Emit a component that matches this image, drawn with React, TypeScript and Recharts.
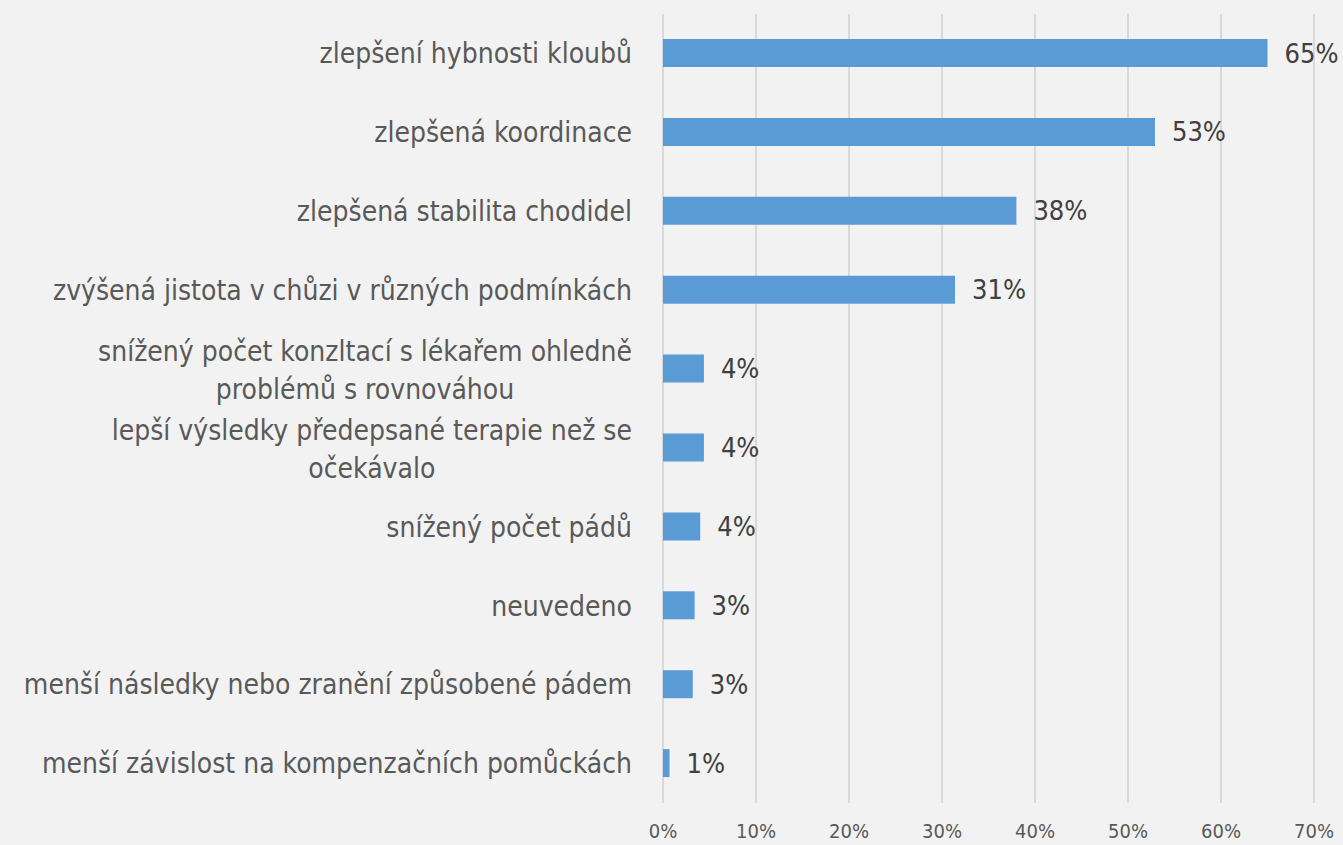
import { BarChart, Bar, XAxis, YAxis, CartesianGrid, LabelList } from "recharts";

const categories = [
  "zlepšení hybnosti kloubů",
  "zlepšená koordinace",
  "zlepšená stabilita chodidel",
  "zvýšená jistota v chůzi v různých podmínkách",
  "snížený počet konzltací s lékařem ohledně|problémů s rovnováhou",
  "lepší výsledky předepsané terapie než se|očekávalo",
  "snížený počet pádů",
  "neuvedeno",
  "menší následky nebo zranění způsobené pádem",
  "menší závislost na kompenzačních pomůckách",
];

const values = [65, 52.9, 38, 31.4, 4.4, 4.4, 4, 3.4, 3.2, 0.7];

const xTicks = [0, 10, 20, 30, 40, 50, 60, 70];

const FONT = "'DejaVu Sans Condensed', 'DejaVu Sans', sans-serif";
const LABEL_SIZE = 28;

const data = categories.map((name, i) => ({ name, value: values[i] }));

let ctx: CanvasRenderingContext2D | null = null;
const measure = (s: string) => {
  if (!ctx) {
    ctx = document.createElement("canvas").getContext("2d");
  }
  if (!ctx) return s.length * 13;
  ctx.font = `${LABEL_SIZE}px 'DejaVu Sans Condensed'`;
  return ctx.measureText(s).width;
};

const CategoryTick = (props: any) => {
  const { x, y, payload } = props;
  const lines: string[] = String(payload.value).split("|");
  if (lines.length === 1) {
    return (
      <text x={x - 23} y={y} dy="0.35em" textAnchor="end" fill="#595959" fontSize={LABEL_SIZE} fontFamily={FONT}>
        {lines[0]}
      </text>
    );
  }
  const w = Math.max(...lines.map(measure));
  const cx = x - 23 - w / 2;
  const lh = 38;
  const start = y - ((lines.length - 1) * lh) / 2 + 1;
  return (
    <g>
      {lines.map((l, i) => (
        <text key={i} x={cx} y={start + i * lh} dy="0.35em" textAnchor="middle" fill="#595959" fontSize={LABEL_SIZE} fontFamily={FONT}>
          {l}
        </text>
      ))}
    </g>
  );
};

export default function App() {
  return (
    <div style={{ position: "absolute", left: 0, top: 0, width: 1343, height: 845, background: "#f2f2f2" }}>
      <BarChart
        width={1343}
        height={845}
        data={data}
        layout="vertical"
        margin={{ top: 14, right: 29, left: 0, bottom: 0 }}
      >
        <CartesianGrid horizontal={false} stroke="#d9d9d9" strokeWidth={2} />
        <XAxis
          type="number"
          domain={[0, 70]}
          ticks={xTicks}
          tickFormatter={(v) => `${v}%`}
          axisLine={false}
          tickLine={false}
          height={42}
          tick={{ fill: "#595959", fontSize: 20, fontFamily: FONT, dy: 13 }}
          interval={0}
        />
        <YAxis
          type="category"
          dataKey="name"
          width={663}
          axisLine={false}
          tickLine={false}
          interval={0}
          tick={<CategoryTick />}
        />
        <Bar dataKey="value" fill="#5b9bd5" barSize={28} isAnimationActive={false}>
          <LabelList
            dataKey="value"
            position="right"
            offset={17}
            formatter={(v: any) => `${Math.round(Number(v))}%`}
            style={{ fill: "#404040", fontSize: 27, fontFamily: FONT }}
          />
        </Bar>
      </BarChart>
    </div>
  );
}
